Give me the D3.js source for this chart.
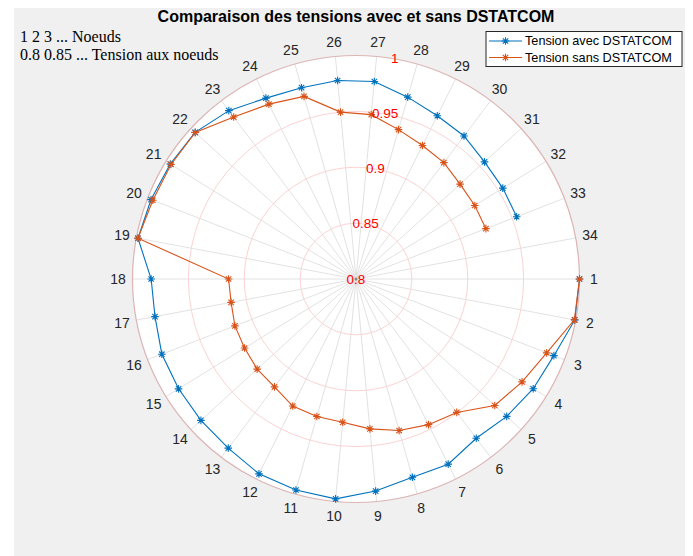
<!DOCTYPE html>
<html><head><meta charset="utf-8">
<script src="https://cdn.jsdelivr.net/npm/d3@7"></script>
<style>body{margin:0;background:#fff}svg{display:block}</style>
</head><body><svg id="c" width="693" height="556"></svg>
<script>
const nodeLabels = d3.range(1, 35).map(String);
const nodes = d3.range(1, 34);
const avec = [1.0,0.9992,0.9899,0.9865,0.9825,0.9786,0.9851,0.9845,0.9906,0.9976,0.9963,0.9948,0.9897,0.9878,0.9867,0.9863,0.9830,0.9833,0.9985,0.9967,0.9955,0.9948,0.9888,0.9808,0.9780,0.9784,0.9775,0.9692,0.9632,0.9604,0.9556,0.9545,0.9542];
const sans = [1.0,0.9988,0.9830,0.9748,0.9680,0.9496,0.9456,0.9410,0.9347,0.9288,0.9279,0.9270,0.9210,0.9197,0.9173,0.9162,0.9137,0.9140,0.9985,0.9950,0.9947,0.9946,0.9816,0.9748,0.9699,0.9500,0.9477,0.9390,0.9335,0.9305,0.9260,0.9250,0.9247];
const rTicks = [0.8, 0.85, 0.9, 0.95, 1.0];
const rTickLabels = ["0.8","0.85","0.9","0.95","1"];
const seriesNames = ["Tension avec DSTATCOM","Tension sans DSTATCOM"];
const colors = ["#0072BD","#D95319"];

const svg = d3.select("#c");
svg.append("rect").attr("x",14).attr("y",8).attr("width",671).attr("height",548).attr("fill","#f0f0f0");

const cx = 356, cy = 279, R = 223.5;
const r = d3.scaleLinear().domain([0.8, 1.0]).range([0, R]);
// angle in radians, clockwise from east (screen)
const th = d3.scaleLinear().domain([0, 34]).range([0, 2*Math.PI]);
const g = svg.append("g").attr("transform", `translate(${cx},${cy})`);

g.append("circle").attr("r", R).attr("fill", "#fff");
// spokes
g.selectAll("line.spoke").data(nodeLabels).join("line")
  .attr("x1",0).attr("y1",0)
  .attr("x2",(d,i)=>R*Math.cos(th(i))).attr("y2",(d,i)=>R*Math.sin(th(i)))
  .attr("stroke","#e2e2e2").attr("stroke-width",1);
// r grid circles
g.selectAll("circle.grid").data(rTicks.slice(1, -1)).join("circle")
  .attr("r", d=>r(d)).attr("fill","none").attr("stroke","#fbd3d3").attr("stroke-width",1);
g.append("circle").attr("r", R).attr("fill","none").attr("stroke","#dcb4b4").attr("stroke-width",1.2);
g.append("circle").attr("r", 1.5).attr("fill","#888");

// theta labels
g.selectAll("text.tl").data(nodeLabels).join("text")
  .attr("x",(d,i)=>238*Math.cos(th(i))).attr("y",(d,i)=>238*Math.sin(th(i)))
  .attr("text-anchor","middle").attr("dominant-baseline","central")
  .attr("font-family","Liberation Sans, Arial, sans-serif").attr("font-size",14).attr("fill","#262626")
  .text(d=>d);

// series
const star = "M-3.8,0H3.8M0,-3.8V3.8M-2.7,-2.7L2.7,2.7M-2.7,2.7L2.7,-2.7";
[avec, sans].forEach((vals, k) => {
  const line = d3.lineRadial().angle((d,i)=>th(i)+Math.PI/2).radius(d=>r(Math.min(d,1.0)));
  g.append("path").attr("d", line(vals)).attr("fill","none").attr("stroke",colors[k]).attr("stroke-width",1.1);
  g.selectAll(null).data(vals).join("path")
    .attr("d", star)
    .attr("transform",(d,i)=>`translate(${r(d)*Math.cos(th(i))},${r(d)*Math.sin(th(i))})`)
    .attr("fill","none").attr("stroke",colors[k]).attr("stroke-width",1.1);
});

// r tick labels at 80 degrees
const ra = -80*Math.PI/180;
g.selectAll("text.rl").data(rTicks).join("text")
  .attr("x",d=>r(d)*Math.cos(ra)).attr("y",d=>r(d)*Math.sin(ra))
  .attr("text-anchor","middle").attr("dominant-baseline","central")
  .attr("font-family","Liberation Sans, Arial, sans-serif").attr("font-size",13.5).attr("fill","#ff0000")
  .text((d,i)=>rTickLabels[i]);

// title
svg.append("text").attr("x",356).attr("y",21.5).attr("text-anchor","middle")
  .attr("font-family","Liberation Sans, Arial, sans-serif").attr("font-weight","bold").attr("font-size",16).attr("fill","#000")
  .text("Comparaison des tensions avec et sans DSTATCOM");

// annotations
const ann = svg.append("g").attr("font-family","Liberation Serif, Times New Roman, serif").attr("font-size",16).attr("fill","#000");
ann.append("text").attr("x",20).attr("y",41.5).text("1 2 3 ... Noeuds");
ann.append("text").attr("x",20).attr("y",59.5).text("0.8 0.85 ... Tension aux noeuds");

// legend
const lg = svg.append("g");
lg.append("rect").attr("x",486).attr("y",31.5).attr("width",196).attr("height",35).attr("fill","#fff").attr("stroke","#262626").attr("stroke-width",1);
seriesNames.forEach((n,k)=>{
  const y = 41 + k*16.5;
  lg.append("line").attr("x1",489).attr("x2",522).attr("y1",y).attr("y2",y).attr("stroke",colors[k]).attr("stroke-width",1.1);
  lg.append("path").attr("d",star).attr("transform",`translate(505.5,${y})`).attr("fill","none").attr("stroke",colors[k]).attr("stroke-width",1.1);
  lg.append("text").attr("x",525).attr("y",y).attr("dominant-baseline","central")
    .attr("font-family","Liberation Sans, Arial, sans-serif").attr("font-size",12.7).attr("fill","#000").text(n);
});
</script></body></html>
